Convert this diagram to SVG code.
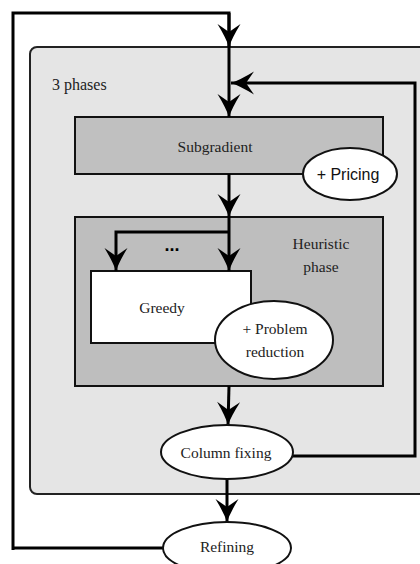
<svg xmlns="http://www.w3.org/2000/svg" width="420" height="564" viewBox="0 0 420 564">
<style>
text{font-family:'Liberation Serif','Times New Roman',serif}
.lbl{font-size:15.5px;fill:#222;text-anchor:middle}
.sans{font-family:'Liberation Sans',Arial,sans-serif;font-size:16px;fill:#111;text-anchor:middle}
.box{stroke:#111;stroke-width:2}
.ell{fill:#fff;stroke:#111;stroke-width:2}
.conn{fill:none;stroke:#000;stroke-width:3}
</style>
<defs>
<marker id="ah" markerUnits="userSpaceOnUse" markerWidth="26" markerHeight="26" viewBox="-24 -13 26 26" refX="0" refY="0" orient="auto">
<path d="M0,0 Q-9,-3 -23,-11.5 L-15,0 L-23,11.5 Q-9,3 0,0 Z" fill="#000"/>
</marker>
</defs>
<rect width="420" height="564" fill="#fff"/>
<g id="phases">
<rect x="30" y="47" width="410" height="447" rx="7" fill="#e5e5e5" stroke="#222" stroke-width="2"/>
<text x="52" y="90" class="lbl" style="text-anchor:start;font-size:16px">3 phases</text>
</g>
<g id="subgradient">
<rect x="75" y="117" width="308" height="57" fill="#c0c0c0" class="box"/>
<text x="215" y="152" class="lbl">Subgradient</text>
</g>
<g id="heuristic">
<rect x="75" y="217" width="308" height="169" fill="#bebebe" class="box"/>
<text x="321" y="249" class="lbl">Heuristic</text>
<text x="321" y="272" class="lbl">phase</text>
</g>
<g id="greedy">
<rect x="91" y="271" width="160" height="72" fill="#fff" class="box"/>
<text x="162" y="313" class="lbl">Greedy</text>
</g>
<g id="connectors">
<path class="conn" d="M13,550 L13,13 L229,13 L229,117" marker-end="url(#ah)"/>
<path class="conn" d="M229,13 L229,47" marker-end="url(#ah)"/>
<path class="conn" d="M229,174 L229,217" marker-end="url(#ah)"/>
<path class="conn" d="M229,217 L229,271" marker-end="url(#ah)"/>
<path class="conn" d="M229,232 L116,232 L116,271" marker-end="url(#ah)"/>
<path class="conn" d="M229,386 L228,425" marker-end="url(#ah)"/>
<path class="conn" d="M227,479 L227,522" marker-end="url(#ah)"/>
<path class="conn" d="M292,456 L415,456 L415,83 L231,83" marker-end="url(#ah)"/>
<path class="conn" d="M13,548 L165,548"/>
</g>
<g id="pricing">
<ellipse cx="350" cy="174" rx="47" ry="26" class="ell"/>
<text x="348" y="180" class="sans">+ Pricing</text>
</g>
<g id="reduction">
<ellipse cx="274" cy="340" rx="59" ry="39" class="ell"/>
<text x="275" y="334" class="lbl">+ Problem</text>
<text x="275" y="357" class="lbl">reduction</text>
</g>
<text x="172" y="251" style="font-family:'Liberation Sans',Arial,sans-serif;font-size:18px;font-weight:bold;text-anchor:middle">...</text>
<g id="columnfixing">
<ellipse cx="227" cy="452" rx="66" ry="27" class="ell"/>
<text x="226" y="458" class="lbl">Column fixing</text>
</g>
<g id="refining">
<ellipse cx="227" cy="548" rx="64" ry="26" class="ell"/>
<text x="227" y="552" class="lbl">Refining</text>
</g>
</svg>
